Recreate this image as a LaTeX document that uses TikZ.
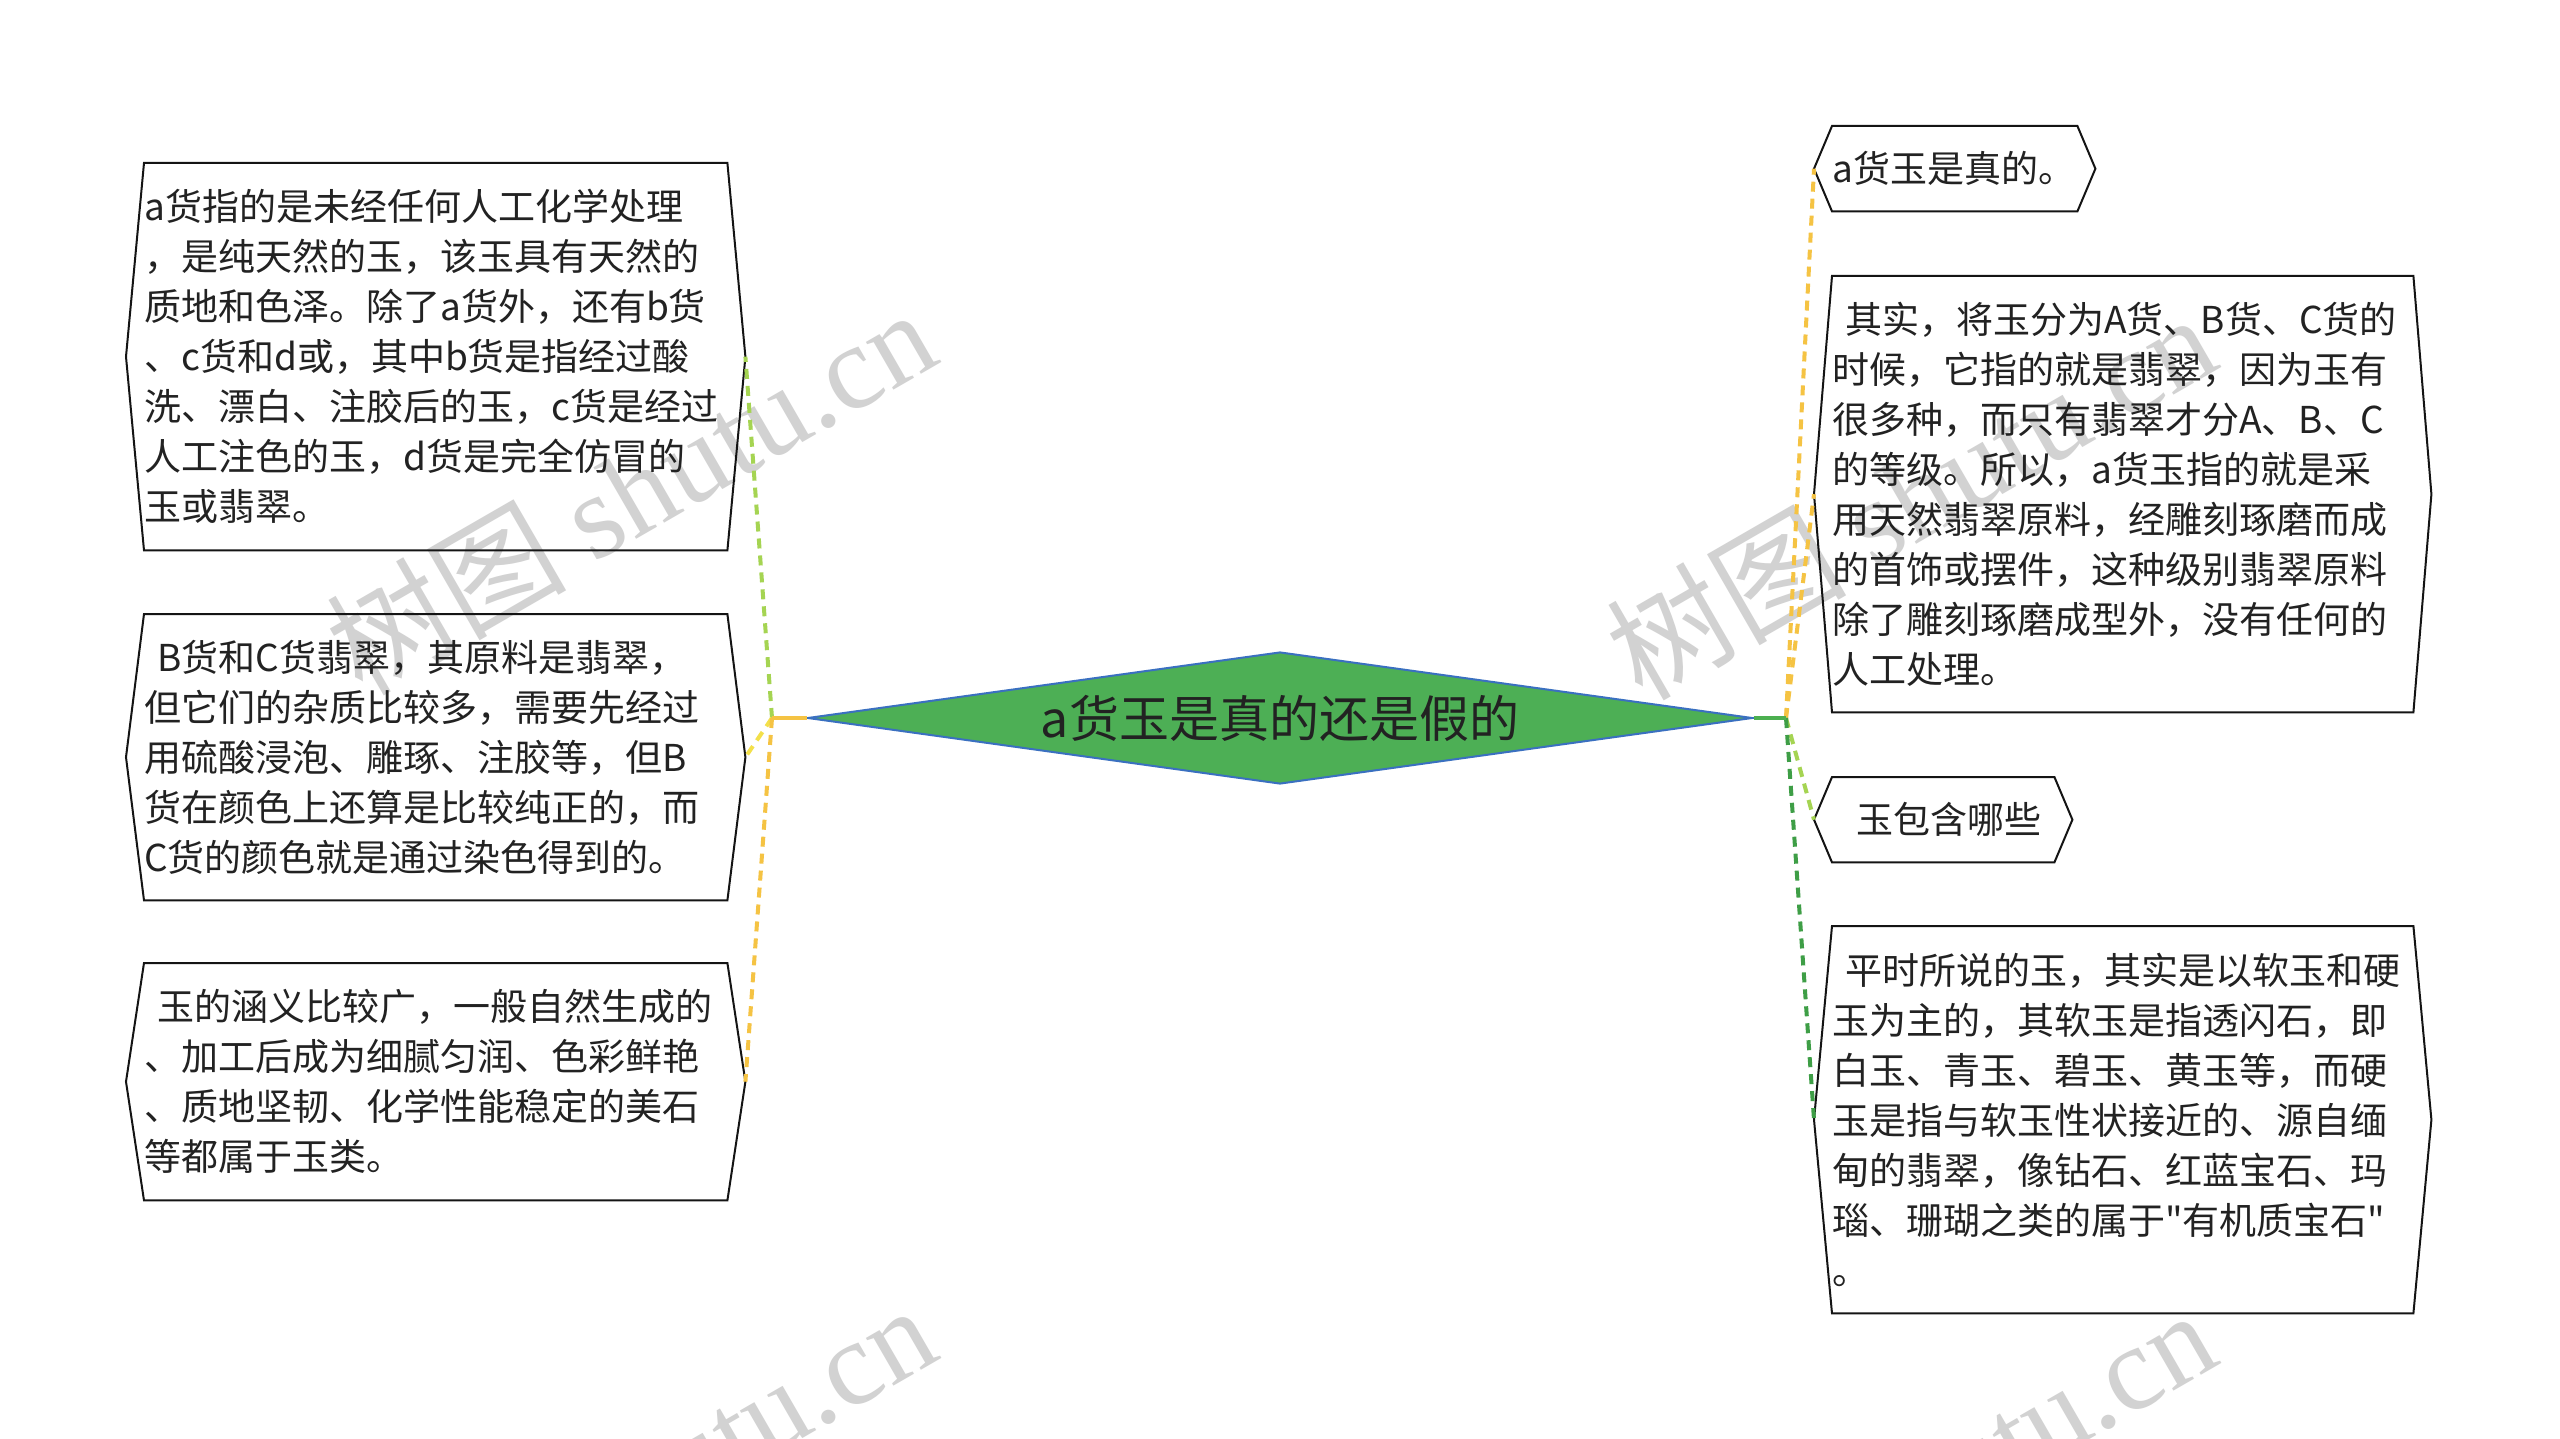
\documentclass[tikz,border=0pt]{standalone}
\usepackage{fontspec}
\setmainfont{Noto Sans CJK SC}
\newfontfamily\qfont{Noto Sans CJK SC}
\newfontfamily\wmlatin{Liberation Serif}
\newfontfamily\wmcjk{Noto Sans CJK SC}
\usetikzlibrary{shapes.geometric}
\definecolor{txtcol}{HTML}{222222}
\definecolor{rootfill}{HTML}{4DAF55}
\definecolor{rootline}{HTML}{3A70C0}
\definecolor{cyellow}{HTML}{F5C343}
\definecolor{clemon}{HTML}{F3E04A}
\definecolor{clgreen}{HTML}{A5D452}
\definecolor{cgreen}{HTML}{3E9E46}
\definecolor{stubgreen}{HTML}{4CAF50}
\definecolor{wmcol}{HTML}{D2D2D2}
\newcommand\hexoutline[1]{%
  \draw[hexline] (#1.north west) -- ([xshift=-18pt]#1.west) -- (#1.south west)
    -- (#1.south east) -- ([xshift=18pt]#1.east) -- (#1.north east) -- cycle;}
\begin{document}
\begin{tikzpicture}[x=1pt,y=-1pt,
  txtbox/.style={draw=none, inner xsep=0pt, inner ysep=0pt, align=left,
    anchor=north west, font=\fontsize{37}{50}\selectfont, text=txtcol},
  hexline/.style={draw=black!92, line width=2pt, line join=miter},
  stubline/.style={line width=4pt},
  dashconn/.style={line width=4pt, dash pattern=on 10pt off 7pt},
  watermark/.style={rotate=30, text=wmcol, font=\fontsize{120}{130}\selectfont, inner sep=0pt}]
\useasboundingbox (0,0) rectangle (2560,1439);
\fill[white] (0,0) rectangle (2560,1439);

% watermarks
\begin{scope}
\clip (0,0) rectangle (2560,1439);
\node[watermark] (wm1) at (630,490) {\wmcjk 树图 \wmlatin shutu.cn};
\node[watermark] (wm2) at (1910,495) {\wmcjk 树图 \wmlatin shutu.cn};
\node[watermark] (wm3) at (630,1486) {\wmcjk 树图 \wmlatin shutu.cn};
\node[watermark] (wm4) at (1910,1491) {\wmcjk 树图 \wmlatin shutu.cn};
\end{scope}

% root
\node[diamond, aspect=7.16, draw=rootline, fill=rootfill, line width=2pt,
  minimum width=945pt, minimum height=132pt, inner sep=0pt,
  font=\fontsize{50}{60}\selectfont, text=txtcol] (C) at (1280,718) {a货玉是真的还是假的};

% left boxes
\node[txtbox, text width=583pt, minimum height=387pt] (L1) at (144,163) {%
a货指的是未经任何人工化学处理\\
，是纯天然的玉，该玉具有天然的\\
质地和色泽。除了a货外，还有b货\\
、c货和d或，其中b货是指经过酸\\
洗、漂白、注胶后的玉，c货是经过\\
人工注色的玉，d货是完全仿冒的\\
玉或翡翠。};
\node[txtbox, text width=583pt, minimum height=286pt] (L2) at (144,614) {%
\hspace*{13pt}B货和C货翡翠，其原料是翡翠，\\
但它们的杂质比较多，需要先经过\\
用硫酸浸泡、雕琢、注胶等，但B\\
货在颜色上还算是比较纯正的，而\\
C货的颜色就是通过染色得到的。};
\node[txtbox, text width=583pt, minimum height=237pt] (L3) at (144,963) {%
\hspace*{13pt}玉的涵义比较广，一般自然生成的\\
、加工后成为细腻匀润、色彩鲜艳\\
、质地坚韧、化学性能稳定的美石\\
等都属于玉类。};

% right boxes
\node[txtbox, text width=245pt, minimum height=85pt] (R1) at (1832,126) {a货玉是真的。};
\node[txtbox, text width=581pt, minimum height=436pt] (R2) at (1832,276) {%
\hspace*{13pt}其实，将玉分为A货、B货、C货的\\
时候，它指的就是翡翠，因为玉有\\
很多种，而只有翡翠才分A、B、C\\
的等级。所以，a货玉指的就是采\\
用天然翡翠原料，经雕刻琢磨而成\\
的首饰或摆件，这种级别翡翠原料\\
除了雕刻琢磨成型外，没有任何的\\
人工处理。};
\node[txtbox, text width=222pt, minimum height=85pt] (R3) at (1832,777) {\hspace*{24pt}玉包含哪些};
\node[txtbox, text width=581pt, minimum height=387pt] (R4) at (1832,926) {%
\hspace*{13pt}平时所说的玉，其实是以软玉和硬\\
玉为主的，其软玉是指透闪石，即\\
白玉、青玉、碧玉、黄玉等，而硬\\
玉是指与软玉性状接近的、源自缅\\
甸的翡翠，像钻石、红蓝宝石、玛\\
瑙、珊瑚之类的属于{\qfont"}有机质宝石{\qfont"}\\
。};

\hexoutline{L1}
\hexoutline{L2}
\hexoutline{L3}
\hexoutline{R1}
\hexoutline{R2}
\hexoutline{R3}
\hexoutline{R4}

% connectors
\coordinate (LJ) at (772,718);
\coordinate (RJ) at (1786,718);
\draw[dashconn, clgreen] (LJ) -- ([xshift=18pt]L1.east);
\draw[dashconn, clemon] (LJ) -- ([xshift=18pt]L2.east);
\draw[dashconn, cyellow] (LJ) -- ([xshift=18pt]L3.east);
\draw[stubline, cyellow] (C.west) -- (LJ);
\draw[dashconn, cyellow] (RJ) -- ([xshift=-18pt]R1.west);
\draw[dashconn, cyellow] (RJ) -- ([xshift=-18pt]R2.west);
\draw[dashconn, clgreen] (RJ) -- ([xshift=-18pt]R3.west);
\draw[dashconn, cgreen] (RJ) -- ([xshift=-18pt]R4.west);
\draw[stubline, stubgreen] (C.east) -- (RJ);
\end{tikzpicture}
\end{document}
